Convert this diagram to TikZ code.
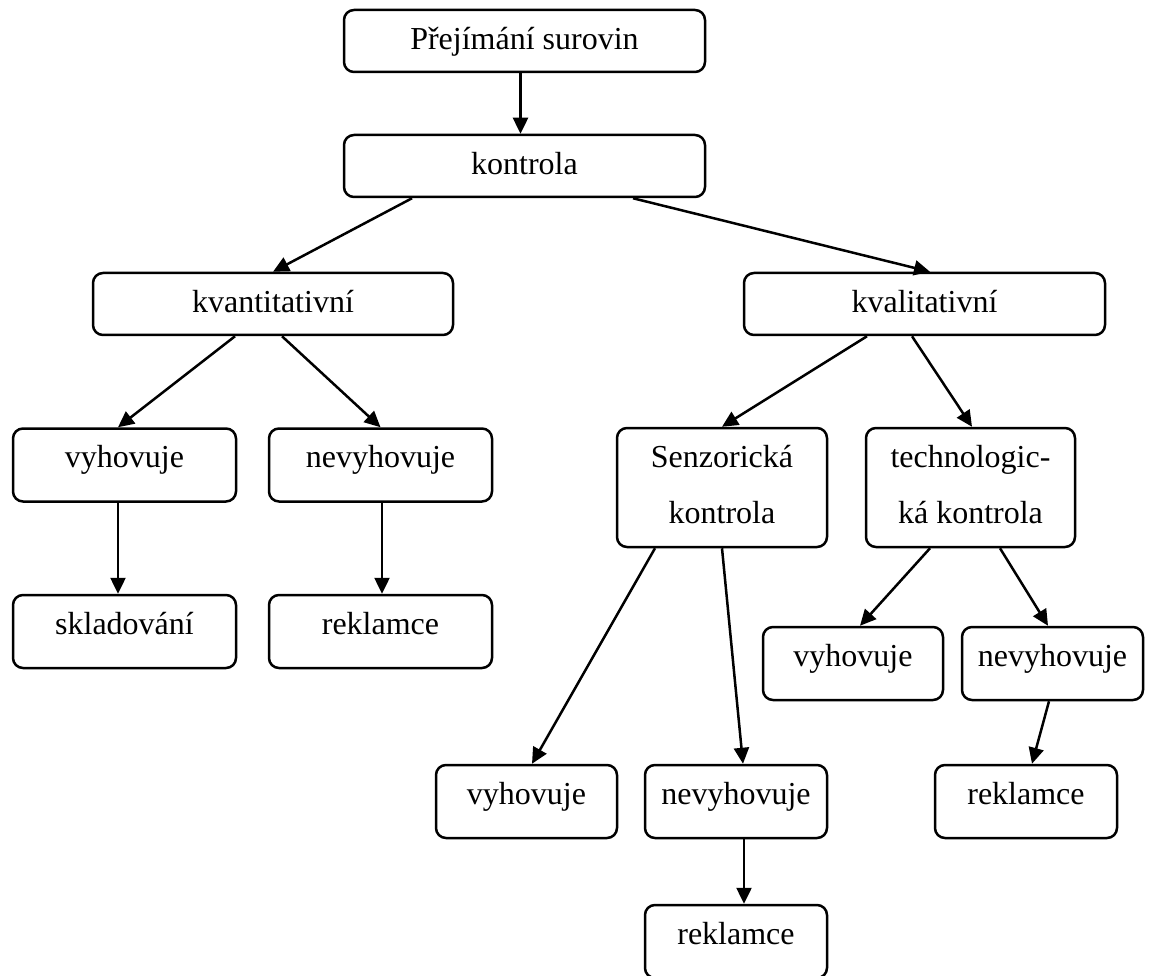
\documentclass[tikz,border=0pt]{standalone}
\usepackage{fontspec}
\setmainfont{Liberation Serif}
\usetikzlibrary{arrows.meta}

\begin{document}
\begin{tikzpicture}[x=1pt, y=-1pt, line width=2.5pt,
    >={Triangle[length=16pt, width=15pt]},
    box/.style={draw, rounded corners=10pt, inner sep=0pt,
        font=\fontsize{32}{56}\selectfont, text height=39pt, text depth=34pt},
    wide/.style={box, minimum width=361pt, text height=40pt, text depth=22pt},
    tall/.style={box, align=center, text height=95pt, text depth=24pt}]
    \useasboundingbox (0,0) rectangle (1149,976);

    % Top of the tree
    \node[wide] (prejimani) at (524.5,41) {Přejímání surovin};
    \node[wide] (kontrola) at (524.5,166) {kontrola};
    \node[wide, minimum width=360pt] (kvantita) at (273,304) {kvantitativní};
    \node[wide] (kvalita) at (924.5,304) {kvalitativní};

    % Quantitative branch
    \node[box, minimum width=223pt] (vyhovuje1) at (124.5,465) {vyhovuje};
    \node[box, minimum width=223pt] (nevyhovuje1) at (380.5,465) {nevyhovuje};
    \node[box, minimum width=223pt] (skladovani) at (124.5,631.5) {skladování};
    \node[box, minimum width=223pt] (reklamce1) at (380.5,631.5) {reklamce};

    % Qualitative branch
    \node[tall, minimum width=210pt] (senzor) at (722,487.5) {Senzorická\\kontrola};
    \node[tall, minimum width=209pt] (technolog) at (970.5,487.5) {technologic-\\ká kontrola};
    \node[box, minimum width=181pt] (vyhovuje2) at (526.5,801.5) {vyhovuje};
    \node[box, minimum width=182pt] (nevyhovuje2) at (736,801.5) {nevyhovuje};
    \node[box, minimum width=182pt] (reklamce2) at (736,941.5) {reklamce};
    \node[box, minimum width=180pt] (vyhovuje3) at (853,663.5) {vyhovuje};
    \node[box, minimum width=181pt] (nevyhovuje3) at (1052.5,663.5) {nevyhovuje};
    \node[box, minimum width=182pt] (reklamce3) at (1026,801.5) {reklamce};

    % Arrows
    \draw[->] ([xshift=-4pt]prejimani.south) -- ([xshift=-4pt]kontrola.north);
    \draw[->] ([xshift=-112.5pt]kontrola.south) -- (kvantita.north);
    \draw[->] ([xshift=108.5pt]kontrola.south) -- ([xshift=5.5pt]kvalita.north);
    \draw[->] ([xshift=-38pt]kvantita.south) -- ([xshift=-6.5pt]vyhovuje1.north);
    \draw[->] ([xshift=9pt]kvantita.south) -- (nevyhovuje1.north);
    \draw[->] ([xshift=-6.5pt]vyhovuje1.south) -- ([xshift=-6.5pt]skladovani.north);
    \draw[->] ([xshift=1.5pt]nevyhovuje1.south) -- ([xshift=1.5pt]reklamce1.north);
    \draw[->] ([xshift=-57.5pt]kvalita.south) -- (senzor.north);
    \draw[->] ([xshift=-12.5pt]kvalita.south) -- ([xshift=1.5pt]technolog.north);
    \draw[->] ([xshift=-67pt]senzor.south) -- ([xshift=5.5pt]vyhovuje2.north);
    \draw[->] (senzor.south) -- ([xshift=7pt]nevyhovuje2.north);
    \draw[->] ([xshift=8pt]nevyhovuje2.south) -- ([xshift=8pt]reklamce2.north);
    \draw[->] ([xshift=-40.5pt]technolog.south) -- ([xshift=7pt]vyhovuje3.north);
    \draw[->] ([xshift=29.5pt]technolog.south) -- ([xshift=-4.5pt]nevyhovuje3.north);
    \draw[->] ([xshift=-3.5pt]nevyhovuje3.south) -- ([xshift=6pt]reklamce3.north);
\end{tikzpicture}
\end{document}
